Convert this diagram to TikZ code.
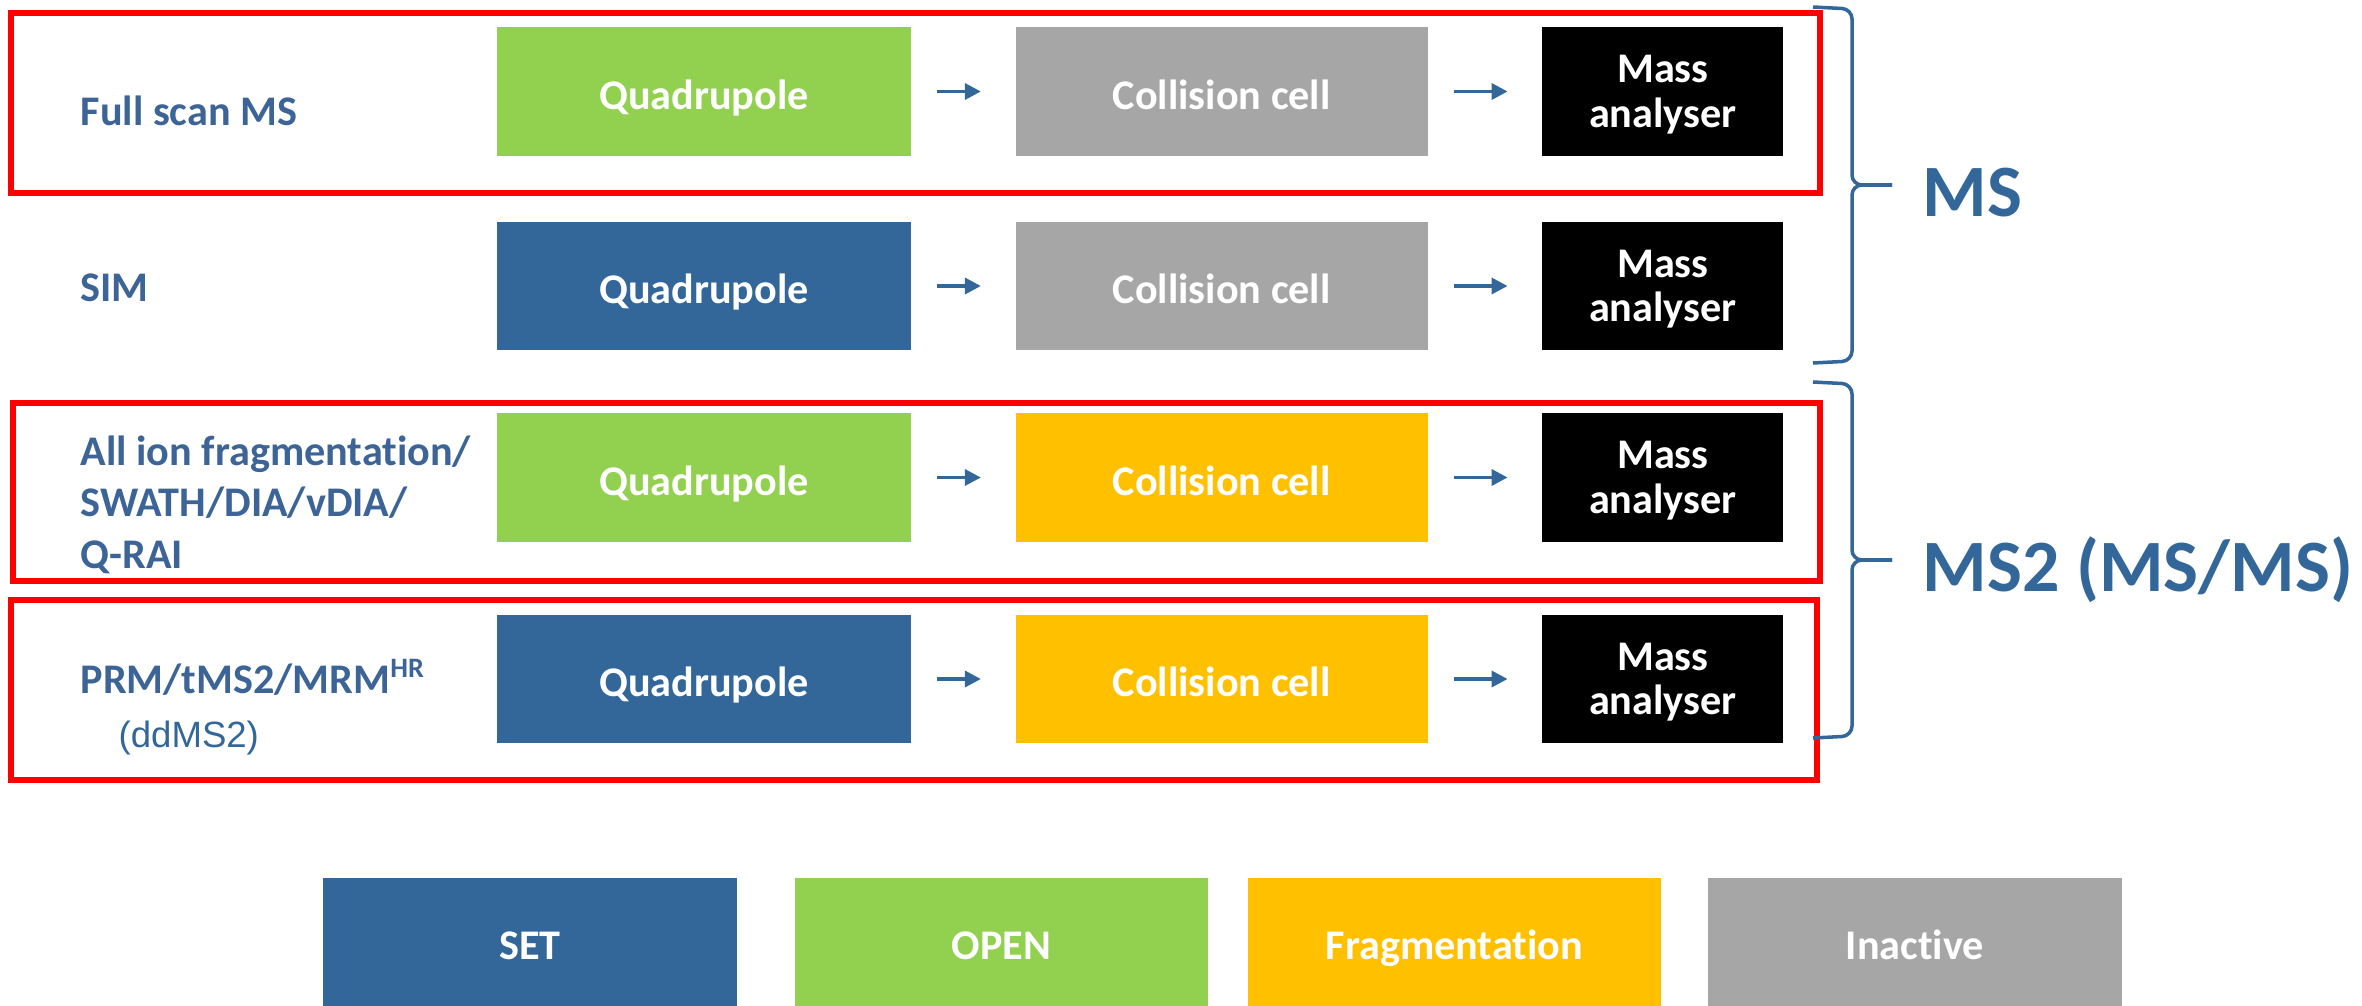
\documentclass[tikz,border=0pt]{standalone}
\usepackage{fontspec}
\setmainfont{Carlito}[Ligatures=NoCommon]
\newfontfamily\arialfont{Liberation Sans}
\usetikzlibrary{arrows.meta, positioning}
\definecolor{cset}{HTML}{336699}
\definecolor{copen}{HTML}{92D050}
\definecolor{cfrag}{HTML}{FFC000}
\definecolor{cinact}{HTML}{A6A6A6}
\definecolor{cred}{HTML}{FF0000}
\definecolor{clabel}{HTML}{3C6496}
\tikzset{
  every picture/.style={font=\bfseries\fontsize{12}{14.6}\selectfont},
  stage/.style={fill=#1, text=white, align=center, inner sep=0pt, minimum height=1.28cm,
                text height=0.42cm, text depth=0.07cm},
  quad/.style={stage=#1, minimum width=4.14cm},
  cell/.style={stage=#1, minimum width=4.12cm},
  analyser/.style={stage=black, minimum width=2.41cm, text height=0.80cm, text depth=0.09cm,
                   font=\bfseries\fontsize{12}{12.6}\selectfont},
  legendbox/.style={stage=#1, minimum width=4.13cm},
  arrow/.style={-{Triangle[length=1.6mm, width=1.6mm]}, draw=cset, line width=1pt, shorten <=2.5mm, shorten >=3.4mm},
  redframe/.style={draw=cred, line width=1.7pt},
  method/.style={text=clabel, anchor=base west, align=left, inner sep=0pt},
  grouplbl/.style={text=cset, anchor=base west, inner sep=0pt, font=\bfseries\fontsize{21}{25}\selectfont},
  grpbrace/.style={draw=cset, line width=1pt, rounded corners=1mm},
}

\begin{document}
\begin{tikzpicture}[x=0.01cm, y=-0.01cm]
  \useasboundingbox (0,0) rectangle (2362,1006);

  % full scan MS
  \node[method] (lab1) at (80,125) {Full scan MS};
  \node[quad=copen] (q1) at (704,91.5) {Quadrupole};
  \node[cell=cinact, right=1.03cm of q1] (c1) {Collision cell};
  \node[analyser, right=1.13cm of c1] (m1) {Mass\\analyser};
  \draw[arrow] (q1) -- (c1);
  \draw[arrow] (c1) -- (m1);

  % SIM
  \node[method] (lab2) at (80,301) {SIM};
  \node[quad=cset] (q2) at (704,286) {Quadrupole};
  \node[cell=cinact, right=1.03cm of q2] (c2) {Collision cell};
  \node[analyser, right=1.13cm of c2] (m2) {Mass\\analyser};
  \draw[arrow] (q2) -- (c2);
  \draw[arrow] (c2) -- (m2);

  % all ion fragmentation
  \node[method] (lab3) at (80,568) {All ion fragmentation/\\SWATH/DIA/vDIA/\\Q-RAI};
  \node[quad=copen] (q3) at (704,477.5) {Quadrupole};
  \node[cell=cfrag, right=1.03cm of q3] (c3) {Collision cell};
  \node[analyser, right=1.13cm of c3] (m3) {Mass\\analyser};
  \draw[arrow] (q3) -- (c3);
  \draw[arrow] (c3) -- (m3);

  % PRM
  \node[method] (lab4) at (80,693) {PRM/tMS2/MRM\textsuperscript{HR}};
  \node[method, text=cset, font=\arialfont\mdseries\fontsize{10.4}{12}\selectfont] (lab4b) at (118,747) {(ddMS2)};
  \node[quad=cset] (q4) at (704,679) {Quadrupole};
  \node[cell=cfrag, right=1.03cm of q4] (c4) {Collision cell};
  \node[analyser, right=1.13cm of c4] (m4) {Mass\\analyser};
  \draw[arrow] (q4) -- (c4);
  \draw[arrow] (c4) -- (m4);

  \draw[redframe] (11,13) rectangle (1820,193);
  \draw[redframe] (13,403) rectangle (1820,581);
  \draw[redframe] (11,600) rectangle (1817,780);

  % braces
  \coordinate (msT) at (1813,7);
  \coordinate (msB) at (1813,363);
  \coordinate (msTip) at (1892,185);
  \coordinate (ms2T) at (1813,382);
  \coordinate (ms2B) at (1813,738);
  \coordinate (ms2Tip) at (1892,560);
  \draw[grpbrace] (msT) -- ++(39,2) |- (msTip);
  \draw[grpbrace] (msB) -- ++(39,-2) |- (msTip);
  \draw[grpbrace] (ms2T) -- ++(39,2) |- (ms2Tip);
  \draw[grpbrace] (ms2B) -- ++(39,-2) |- (ms2Tip);
  \node[grouplbl] (ms) at (1922,216) {MS};
  \node[grouplbl] (ms2) at (1922,591) {MS2 (MS/MS)};

  % legend
  \node[legendbox=cset] (kset) at (530,942) {SET};
  \node[legendbox=copen, right=0.57cm of kset] (kopen) {OPEN};
  \node[legendbox=cfrag, right=0.38cm of kopen] (kfrag) {Fragmentation};
  \node[legendbox=cinact, right=0.46cm of kfrag] (kinact) {Inactive};
\end{tikzpicture}
\end{document}
